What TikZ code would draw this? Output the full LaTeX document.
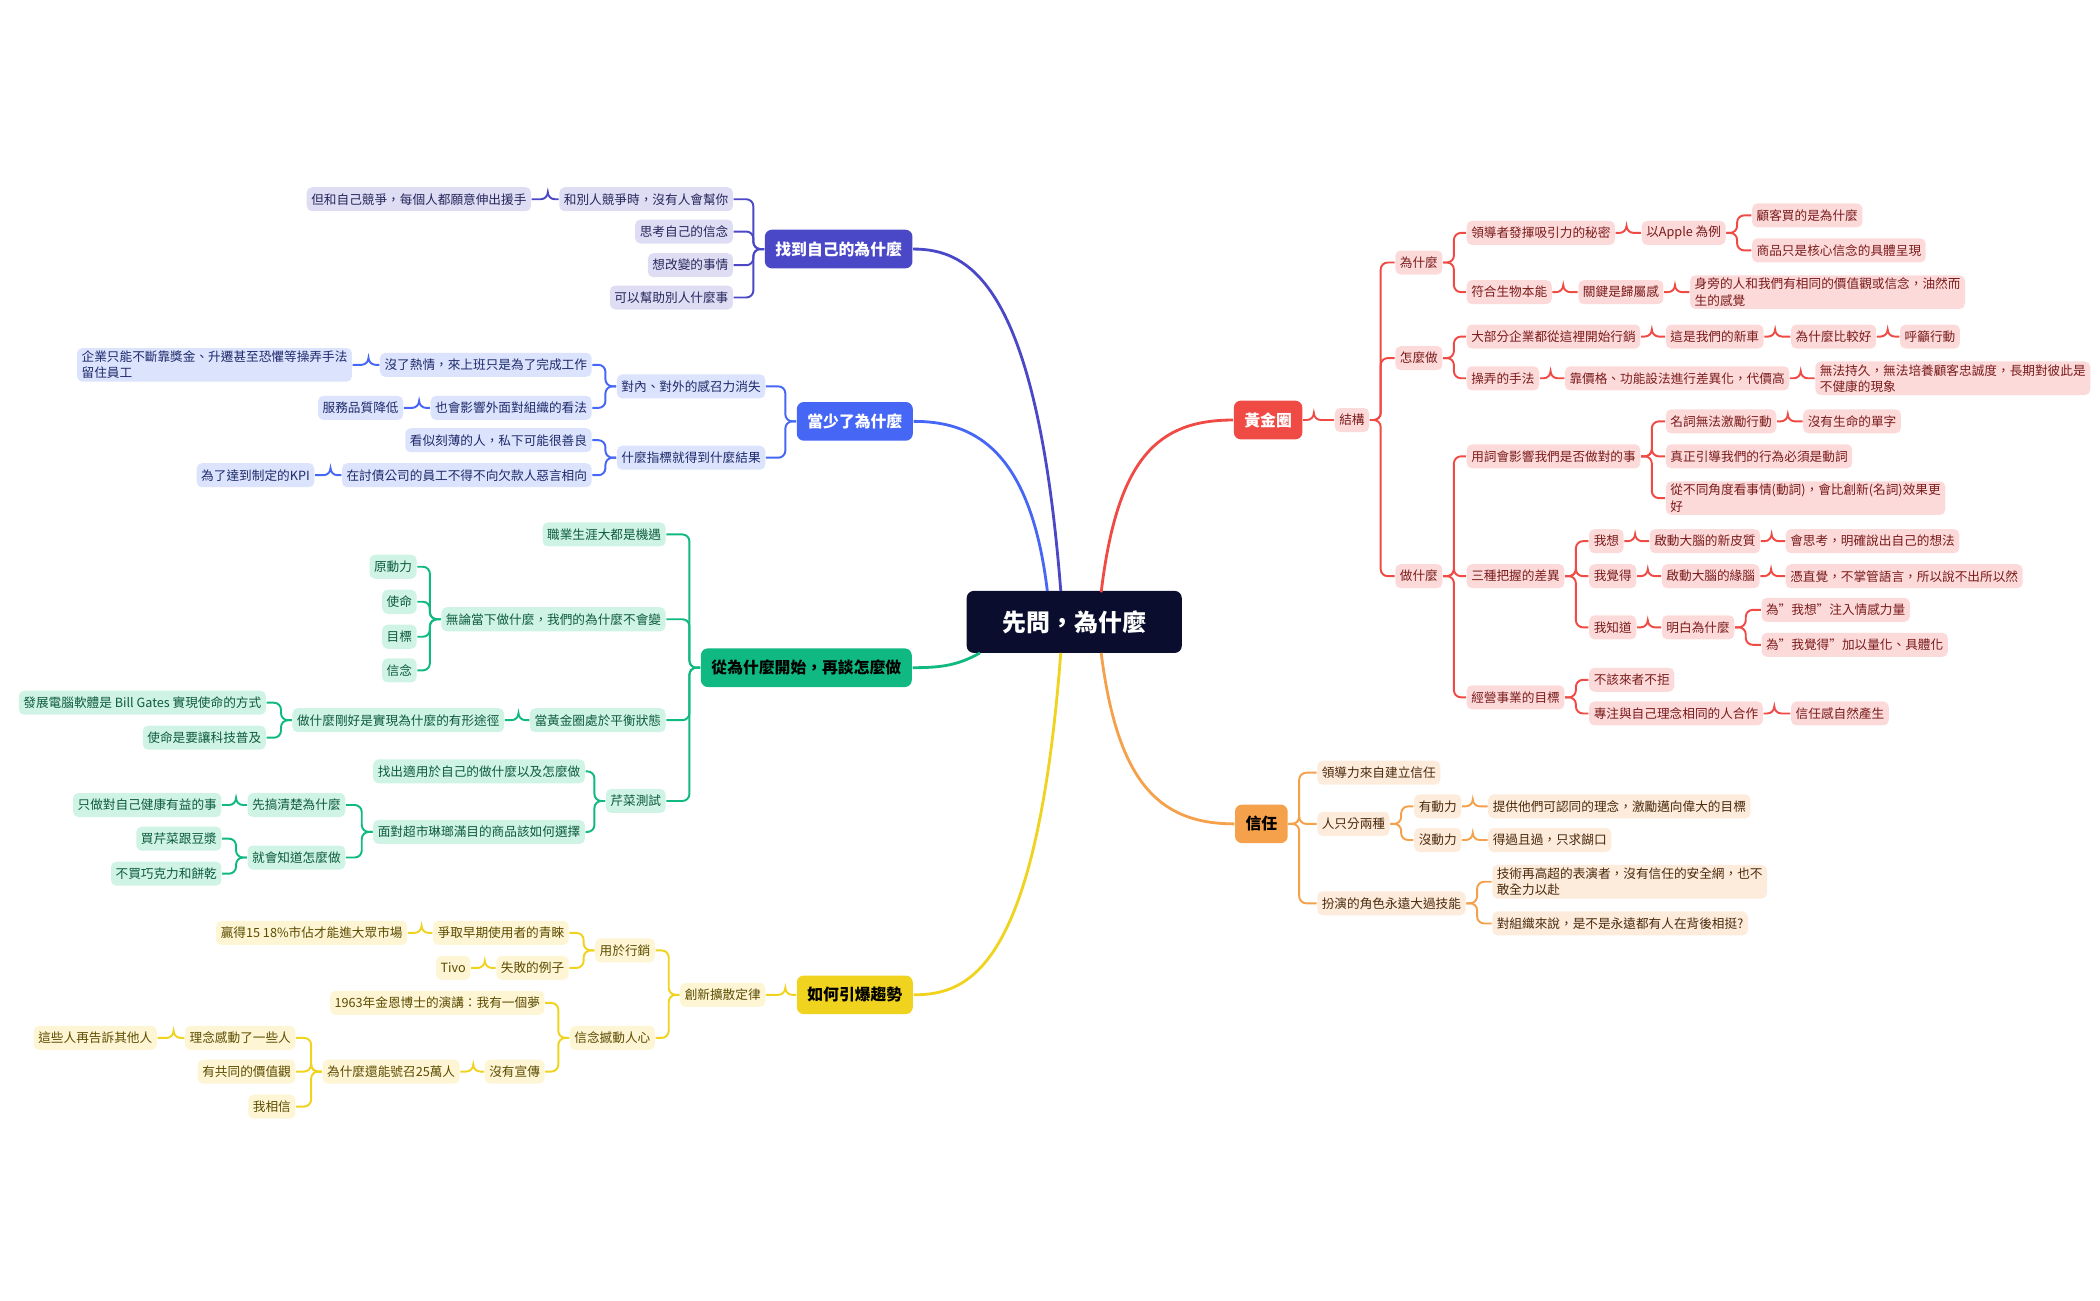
\documentclass[tikz,border=0pt]{standalone}
\usepackage{fontspec}
\setmainfont{Noto Sans CJK TC}
\definecolor{navy}{HTML}{0B0D2E}
\definecolor{rdline}{HTML}{F04A45}\definecolor{rdfill}{HTML}{FDDADA}\definecolor{rdtext}{HTML}{7A1B1B}
\definecolor{orline}{HTML}{F5A04A}\definecolor{orfill}{HTML}{FDEBDC}\definecolor{ortext}{HTML}{4A2A0C}
\definecolor{puline}{HTML}{4B48C8}\definecolor{pufill}{HTML}{DEDDF3}\definecolor{putext}{HTML}{26265C}
\definecolor{blline}{HTML}{4667F5}\definecolor{blfill}{HTML}{DCE3FD}\definecolor{bltext}{HTML}{1E2A6A}
\definecolor{grline}{HTML}{10B981}\definecolor{grfill}{HTML}{CFF3E5}\definecolor{grtext}{HTML}{0D5B3F}
\definecolor{yeline}{HTML}{F0D31F}\definecolor{yefill}{HTML}{FDF5D3}\definecolor{yetext}{HTML}{5C4B00}
\tikzset{
  leaf/.style={rounded corners=1.5pt, inner xsep=1.3pt, inner ysep=0.8pt, minimum height=0.24cm,
    font=\fontsize{3.6}{4.6}\selectfont, align=left},
  rd/.style={leaf, fill=rdfill, text=rdtext, anchor=west},
  or/.style={leaf, fill=orfill, text=ortext, anchor=west},
  pu/.style={leaf, fill=pufill, text=putext, anchor=east},
  bl/.style={leaf, fill=blfill, text=bltext, anchor=east},
  gr/.style={leaf, fill=grfill, text=grtext, anchor=east},
  ye/.style={leaf, fill=yefill, text=yetext, anchor=east},
  topic/.style={rounded corners=2pt, minimum height=0.38cm, inner xsep=3pt, font=\fontsize{4.5}{5}\selectfont\bfseries},
}
\newcommand{\rlink}[2]{\draw (#1.east) -- ++(8,0) |- (#2.west);}
\newcommand{\llink}[2]{\draw (#1.west) -- ++(-8,0) |- (#2.east);}
\begin{document}
\begin{tikzpicture}[x=0.01346cm, y=-0.01346cm]
\useasboundingbox (0,0) rectangle (1560,966);
% center
\node[fill=navy, text=white, rounded corners=2pt, minimum width=2.15cm, minimum height=0.62cm,
  font=\fontsize{6.8}{7}\selectfont\bfseries] (ctr) at (798,462) {先問，為什麼};
% main topics
\node[topic, fill=rdline, text=white] (gold) at (942,312) {黃金圈};
\node[topic, fill=orline, text=black] (trust) at (937,612) {信任};
\node[topic, fill=puline, text=white] (find) at (623,185) {找到自己的為什麼};
\node[topic, fill=blline, text=white] (lack) at (635,313) {當少了為什麼};
\node[topic, fill=grline, text=black] (start) at (599,496) {從為什麼開始，再談怎麼做};
\node[topic, fill=yeline, text=black] (tip) at (635,739) {如何引爆趨勢};
\coordinate (cR) at (818,440); \coordinate (cO) at (818,485);
\coordinate (cP) at (788,439); \coordinate (cB) at (778,439);
\coordinate (cG) at (728,485); \coordinate (cY) at (788,485);
\draw[rdline, line width=0.8pt] (cR) .. controls (830,340) and (860,312) .. (gold.west);
\draw[orline, line width=0.8pt] (cO) .. controls (830,580) and (860,612) .. (trust.west);
\draw[puline, line width=0.8pt] (cP) .. controls (770,210) and (720,185) .. (find.east);
\draw[blline, line width=0.8pt] (cB) .. controls (765,330) and (720,313) .. (lack.east);
\draw[grline, line width=0.8pt] (cG) .. controls (712,494) and (700,496) .. (start.east);
\draw[yeline, line width=0.8pt] (cY) .. controls (770,720) and (720,739) .. (tip.east);

% 黃金圈
\node[rd] (st) at (991,312) {結構};
\node[rd] (why) at (1036,195) {為什麼};
\node[rd] (how) at (1036,266) {怎麼做};
\node[rd] (what) at (1036,428) {做什麼};
\node[rd] (lead) at (1089,173) {領導者發揮吸引力的秘密};
\node[rd] (apple) at (1219,173) {以Apple 為例};
\node[rd] (buy) at (1301,160) {顧客買的是為什麼};
\node[rd] (prod) at (1301,186) {商品只是核心信念的具體呈現};
\node[rd] (bio) at (1089,217) {符合生物本能};
\node[rd] (belong) at (1172,217) {關鍵是歸屬感};
\node[rd] (feel) at (1255,217) {身旁的人和我們有相同的價值觀或信念，油然而\\生的感覺};
\node[rd] (most) at (1089,250) {大部分企業都從這裡開始行銷};
\node[rd] (car) at (1237,250) {這是我們的新車};
\node[rd] (better) at (1330,250) {為什麼比較好};
\node[rd] (call) at (1411,250) {呼籲行動};
\node[rd] (manip) at (1089,281) {操弄的手法};
\node[rd] (price) at (1162,281) {靠價格、功能設法進行差異化，代價高};
\node[rd] (last) at (1348,281) {無法持久，無法培養顧客忠誠度，長期對彼此是\\不健康的現象};
\node[rd] (word) at (1089,339) {用詞會影響我們是否做對的事};
\node[rd] (noun) at (1237,313) {名詞無法激勵行動};
\node[rd] (dead) at (1339,313) {沒有生命的單字};
\node[rd] (verb) at (1237,339) {真正引導我們的行為必須是動詞};
\node[rd] (angle) at (1237,370) {從不同角度看事情(動詞)，會比創新(名詞)效果更\\好};
\node[rd] (three) at (1089,428) {三種把握的差異};
\node[rd] (think) at (1180,402) {我想};
\node[rd] (neo) at (1225,402) {啟動大腦的新皮質};
\node[rd] (say) at (1326,402) {會思考，明確說出自己的想法};
\node[rd] (fl) at (1180,428) {我覺得};
\node[rd] (limb) at (1234,428) {啟動大腦的緣腦};
\node[rd] (gut) at (1326,428) {憑直覺，不掌管語言，所以說不出所以然};
\node[rd] (know) at (1180,466) {我知道};
\node[rd] (under) at (1234,466) {明白為什麼};
\node[rd] (emo) at (1308,453) {為"我想"注入情感力量};
\node[rd] (quant) at (1308,479) {為"我覺得"加以量化、具體化};
\node[rd] (goal) at (1089,518) {經營事業的目標};
\node[rd] (noall) at (1180,505) {不該來者不拒};
\node[rd] (focus) at (1180,530) {專注與自己理念相同的人合作};
\node[rd] (trustnat) at (1330,530) {信任感自然產生};
\begin{scope}[rdline, line width=0.55pt, rounded corners=2pt]
  \rlink{gold}{st}
  \foreach \c in {why,how,what} {\rlink{st}{\c}}
  \rlink{why}{lead} \rlink{why}{bio} \rlink{lead}{apple} \rlink{apple}{buy} \rlink{apple}{prod}
  \rlink{bio}{belong} \rlink{belong}{feel}
  \rlink{how}{most} \rlink{how}{manip} \rlink{most}{car} \rlink{car}{better} \rlink{better}{call}
  \rlink{manip}{price} \rlink{price}{last}
  \foreach \c in {word,three,goal} {\rlink{what}{\c}}
  \foreach \c in {noun,verb,angle} {\rlink{word}{\c}}
  \rlink{noun}{dead}
  \foreach \c in {think,fl,know} {\rlink{three}{\c}}
  \rlink{think}{neo} \rlink{neo}{say} \rlink{fl}{limb} \rlink{limb}{gut}
  \rlink{know}{under} \rlink{under}{emo} \rlink{under}{quant}
  \rlink{goal}{noall} \rlink{goal}{focus} \rlink{focus}{trustnat}
\end{scope}

% 信任
\node[or] (lt) at (978,574) {領導力來自建立信任};
\node[or] (two) at (978,612) {人只分兩種};
\node[or] (mot) at (1050,599) {有動力};
\node[or] (give) at (1105,599) {提供他們可認同的理念，激勵邁向偉大的目標};
\node[or] (nomot) at (1050,624) {沒動力};
\node[or] (live) at (1105,624) {得過且過，只求餬口};
\node[or] (role) at (978,671) {扮演的角色永遠大過技能};
\node[or] (net) at (1108,655) {技術再高超的表演者，沒有信任的安全網，也不\\敢全力以赴};
\node[or] (org) at (1108,686) {對組織來說，是不是永遠都有人在背後相挺?};
\begin{scope}[orline, line width=0.55pt, rounded corners=2pt]
  \foreach \c in {lt,two,role} {\rlink{trust}{\c}}
  \rlink{two}{mot} \rlink{two}{nomot} \rlink{mot}{give} \rlink{nomot}{live}
  \rlink{role}{net} \rlink{role}{org}
\end{scope}

% 找到自己的為什麼
\node[pu] (comp) at (545,148) {和別人競爭時，沒有人會幫你};
\node[pu] (self) at (395,148) {但和自己競爭，每個人都願意伸出援手};
\node[pu] (bel) at (545,172) {思考自己的信念};
\node[pu] (chg) at (545,197) {想改變的事情};
\node[pu] (help) at (545,221) {可以幫助別人什麼事};
\begin{scope}[puline, line width=0.55pt, rounded corners=2pt]
  \foreach \c in {comp,bel,chg,help} {\llink{find}{\c}}
  \llink{comp}{self}
\end{scope}

% 當少了為什麼
\node[bl] (lost) at (569,287) {對內、對外的感召力消失};
\node[bl] (pass) at (440,271) {沒了熱情，來上班只是為了完成工作};
\node[bl] (bonus) at (262,271) {企業只能不斷靠獎金、升遷甚至恐懼等操弄手法\\留住員工};
\node[bl] (view) at (440,303) {也會影響外面對組織的看法};
\node[bl] (serv) at (300,303) {服務品質降低};
\node[bl] (kpi) at (569,340) {什麼指標就得到什麼結果};
\node[bl] (kind) at (440,327) {看似刻薄的人，私下可能很善良};
\node[bl] (debt) at (440,353) {在討債公司的員工不得不向欠款人惡言相向};
\node[bl] (meet) at (234,353) {為了達到制定的KPI};
\begin{scope}[blline, line width=0.55pt, rounded corners=2pt]
  \llink{lack}{lost} \llink{lack}{kpi}
  \llink{lost}{pass} \llink{lost}{view} \llink{pass}{bonus} \llink{view}{serv}
  \llink{kpi}{kind} \llink{kpi}{debt} \llink{debt}{meet}
\end{scope}

% 從為什麼開始，再談怎麼做
\node[gr] (car2) at (495,397) {職業生涯大都是機遇};
\node[gr] (same) at (495,460) {無論當下做什麼，我們的為什麼不會變};
\node[gr] (drive) at (310,421) {原動力};
\node[gr] (mis) at (310,447) {使命};
\node[gr] (aim) at (310,473) {目標};
\node[gr] (fai) at (310,498) {信念};
\node[gr] (bal) at (495,535) {當黃金圈處於平衡狀態};
\node[gr] (path) at (375,535) {做什麼剛好是實現為什麼的有形途徑};
\node[gr] (gates) at (198,522) {發展電腦軟體是 Bill Gates 實現使命的方式};
\node[gr] (tech) at (198,548) {使命是要讓科技普及};
\node[gr] (cel) at (495,595) {芹菜測試};
\node[gr] (fit) at (435,573) {找出適用於自己的做什麼以及怎麼做};
\node[gr] (shop) at (435,618) {面對超市琳瑯滿目的商品該如何選擇};
\node[gr] (first) at (257,598) {先搞清楚為什麼};
\node[gr] (health) at (165,598) {只做對自己健康有益的事};
\node[gr] (then) at (257,637) {就會知道怎麼做};
\node[gr] (buyc) at (165,623) {買芹菜跟豆漿};
\node[gr] (nobuy) at (165,649) {不買巧克力和餅乾};
\begin{scope}[grline, line width=0.55pt, rounded corners=2pt]
  \foreach \c in {car2,same,bal,cel} {\llink{start}{\c}}
  \foreach \c in {drive,mis,aim,fai} {\llink{same}{\c}}
  \llink{bal}{path} \llink{path}{gates} \llink{path}{tech}
  \llink{cel}{fit} \llink{cel}{shop} \llink{shop}{first} \llink{shop}{then}
  \llink{first}{health} \llink{then}{buyc} \llink{then}{nobuy}
\end{scope}

% 如何引爆趨勢
\node[ye] (law) at (569,739) {創新擴散定律};
\node[ye] (mkt) at (487,706) {用於行銷};
\node[ye] (early) at (423,693) {爭取早期使用者的青睞};
\node[ye] (share) at (303,693) {贏得15~18\%市佔才能進大眾市場};
\node[ye] (fail) at (423,719) {失敗的例子};
\node[ye] (tivo) at (350,719) {Tivo};
\node[ye] (move) at (487,771) {信念撼動人心};
\node[ye] (dream) at (405,745) {1963年金恩博士的演講：我有一個夢};
\node[ye] (noad) at (405,796) {沒有宣傳};
\node[ye] (crowd) at (342,796) {為什麼還能號召25萬人};
\node[ye] (touch) at (220,771) {理念感動了一些人};
\node[ye] (tell) at (117,771) {這些人再告訴其他人};
\node[ye] (val) at (220,796) {有共同的價值觀};
\node[ye] (ib) at (220,822) {我相信};
\begin{scope}[yeline, line width=0.55pt, rounded corners=2pt]
  \llink{tip}{law} \llink{law}{mkt} \llink{law}{move}
  \llink{mkt}{early} \llink{mkt}{fail} \llink{early}{share} \llink{fail}{tivo}
  \llink{move}{dream} \llink{move}{noad} \llink{noad}{crowd}
  \foreach \c in {touch,val,ib} {\llink{crowd}{\c}}
  \llink{touch}{tell}
\end{scope}
\end{tikzpicture}
\end{document}
